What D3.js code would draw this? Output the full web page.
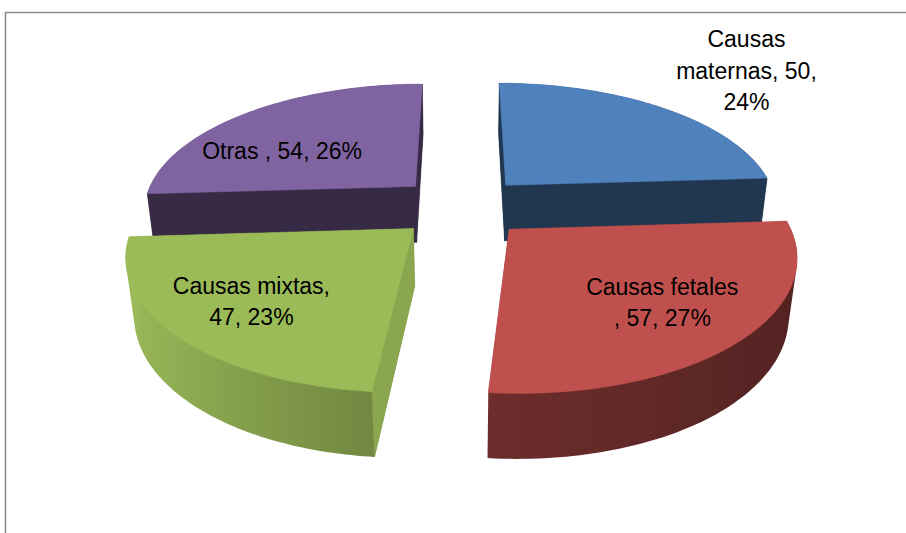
<!DOCTYPE html>
<html>
<head>
<meta charset="utf-8">
<script src="https://cdn.jsdelivr.net/npm/d3@7"></script>
<style>
  body { margin: 0; background: #fff; }
  svg { display: block; }
  .label { font-family: "Liberation Sans", Arial, sans-serif; font-size: 23px; fill: #000; }
</style>
</head>
<body>
<div id="chart"></div>
<script>
// data
const categories = ["Causas maternas", "Causas fetales ", "Causas mixtas", "Otras "];
const values = [50, 57, 47, 54];

// look of each slice (same order as categories)
const topColors = ["#4f81bd", "#c0504d", "#9bbb59", "#8064a2"];
const cutShade = [0.42, 0.62, 0.89, 0.42];               // flat radial faces
const sideShade = [[0.5, 0.2], [0.55, 0.12], [0.7, 0.3], [0.5, 0.2]]; // curved rim
const labelRadius = [1.6, 0.69, 0.71, 0.62];
const labelTurn = [1, 0, 0, -13.5];                       // degrees
const wrapWidth = 162, lineHeight = 31.5;

const width = 906, height = 533;
const cx = 462, cy = 263.5;
const F = 1355, D = 5.08;
const tilt = 30 * Math.PI / 180;
const thick = 0.24, explode = 0.24;
const cosT = Math.cos(tilt), sinT = Math.sin(tilt);
const camera = [0, D * sinT, -D * cosT];

// world (X right, Y up, Z away) -> screen, with perspective
function project(X, Y, Z) {
  let v = Y * cosT + Z * sinT;
  let w = Z * cosT - Y * sinT;
  let k = F / (D + w);
  return [cx + k * X, cy - k * v];
}

function shade(color, b) {
  let c = d3.rgb(color);
  return d3.rgb(c.r * b, c.g * b, c.b * b).formatHex();
}

const svg = d3.select("#chart").append("svg")
  .attr("width", width)
  .attr("height", height);

const defs = svg.append("defs");

svg.append("rect")
  .attr("x", 5.5).attr("y", 12.5)
  .attr("width", width).attr("height", height)
  .attr("fill", "none")
  .attr("stroke", "#8a8a8a")
  .attr("stroke-width", 1.5);

const total = d3.sum(values);
const arcs = d3.pie().sort(null)(values);

const slices = arcs.map(function(a, i) {
  let mid = (a.startAngle + a.endAngle) / 2;
  return {
    i: i,
    a0: a.startAngle,
    a1: a.endAngle,
    mid: mid,
    ox: explode * Math.sin(mid),
    oz: explode * Math.cos(mid)
  };
});

const plot = svg.append("g");

// back slices first
slices.slice().sort(function(p, q) { return q.oz - p.oz; }).forEach(drawSlice);

function drawSlice(s) {
  let n = 80;
  let rim = d3.range(n + 1).map(function(j) { return s.a0 + (s.a1 - s.a0) * j / n; });
  let pt = function(a, r, Y) {
    return project(s.ox + r * Math.sin(a), Y, s.oz + r * Math.cos(a));
  };

  let topPoly = [pt(0, 0, thick)].concat(rim.map(function(a) { return pt(a, 1, thick); }));
  let botPoly = [pt(0, 0, 0)].concat(rim.map(function(a) { return pt(a, 1, 0); }));
  let hull = d3.polygonHull(topPoly.concat(botPoly));

  // gradient for the curved outer wall
  let x1 = pt(s.a0, 1, 0)[0], x2 = pt(s.a1, 1, 0)[0];
  let grad = defs.append("linearGradient")
    .attr("id", "side" + s.i)
    .attr("gradientUnits", "userSpaceOnUse")
    .attr("x1", x1).attr("x2", x2)
    .attr("y1", 0).attr("y2", 0);
  let last = 0;
  rim.filter(function(a, j) { return j % 8 === 0 || j === n; }).forEach(function(a) {
    let off = (pt(a, 1, 0)[0] - x1) / (x2 - x1);
    off = Math.max(last, Math.min(1, off));
    last = off;
    let b = sideShade[s.i][0] - sideShade[s.i][1] * Math.sin(a);
    b = Math.max(0.4, Math.min(1.05, b));
    grad.append("stop")
      .attr("offset", off)
      .attr("stop-color", shade(topColors[s.i], b));
  });

  let line = d3.line();
  let g = plot.append("g");

  g.append("path")
    .attr("d", line(hull) + "Z")
    .attr("fill", "url(#side" + s.i + ")");

  // flat cut faces, only the ones facing the camera
  [[s.a0, s.a0 - Math.PI / 2], [s.a1, s.a1 + Math.PI / 2]].forEach(function(f) {
    let a = f[0], na = f[1];
    let P = [s.ox + 0.5 * Math.sin(a), thick / 2, s.oz + 0.5 * Math.cos(a)];
    let dot = Math.sin(na) * (camera[0] - P[0]) + Math.cos(na) * (camera[2] - P[2]);
    if (dot <= 0) return;
    let face = [pt(0, 0, thick), pt(a, 1, thick), pt(a, 1, 0), pt(0, 0, 0)];
    g.append("path")
      .attr("d", line(face) + "Z")
      .attr("fill", shade(topColors[s.i], cutShade[s.i]))
      .attr("stroke", shade(topColors[s.i], cutShade[s.i]))
      .attr("stroke-width", 0.5);
  });

  g.append("path")
    .attr("d", line(topPoly) + "Z")
    .attr("fill", topColors[s.i])
    .attr("stroke", topColors[s.i])
    .attr("stroke-width", 0.5);
}

// data labels: "name, value, pct%"
slices.forEach(function(s) {
  let i = s.i;
  let pct = Math.round(values[i] / total * 100);
  let words = (categories[i] + ", " + values[i] + ", " + pct + "%").split(" ");
  let a = s.mid + labelTurn[i] * Math.PI / 180;
  let p = project(s.ox + labelRadius[i] * Math.sin(a), thick, s.oz + labelRadius[i] * Math.cos(a));

  let text = svg.append("text")
    .attr("class", "label")
    .attr("text-anchor", "middle");

  // greedy wrap
  let lines = [], cur = [];
  let probe = text.append("tspan");
  words.forEach(function(w) {
    let tryLine = cur.concat([w]).join(" ");
    probe.text(tryLine);
    if (cur.length && probe.node().getComputedTextLength() > wrapWidth) {
      lines.push(cur.join(" "));
      cur = [w];
    } else {
      cur.push(w);
    }
  });
  lines.push(cur.join(" "));
  probe.remove();

  let y0 = p[1] - (lines.length - 1) * lineHeight / 2 + 8;
  lines.forEach(function(l, k) {
    text.append("tspan")
      .attr("x", p[0])
      .attr("y", y0 + k * lineHeight)
      .text(l);
  });
});
</script>
</body>
</html>
